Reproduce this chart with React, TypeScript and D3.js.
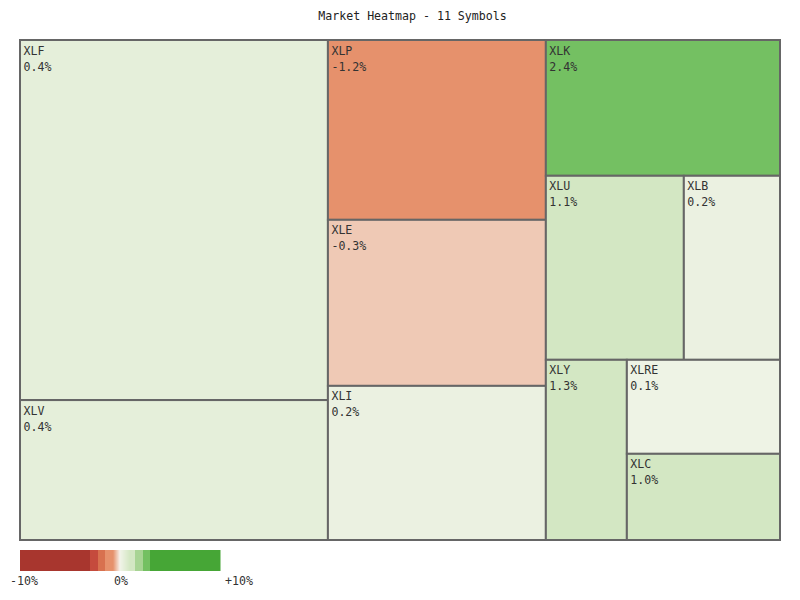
import React from "react";
import * as d3 from "d3";

// ---- data ----
const symbols = ["XLF", "XLV", "XLP", "XLE", "XLI", "XLK", "XLU", "XLB", "XLY", "XLRE", "XLC"];
const changes = [0.4, 0.4, -1.2, -0.3, 0.2, 2.4, 1.1, 0.2, 1.3, 0.1, 1.0];
const weights = [110.9, 43.1, 39.2, 36.2, 33.6, 31.8, 25.4, 17.7, 14.6, 14.4, 13.2];
// nesting of the tiles (columns / rows alternate with depth)
const groups: any[] = [
  ["XLF", "XLV"],
  ["XLP", "XLE", "XLI"],
  ["XLK", ["XLU", "XLB"], ["XLY", ["XLRE", "XLC"]]],
];
const title = "Market Heatmap - 11 Symbols";
const legendTicks = [-10, 0, 10];
const legendTickLabels = ["-10%", "0%", "+10%"];

// colour scale definition
const stepBreaks = [-3, -2.2, -1.5, -0.7, 0, 1, 1.5, 2.3, 3];
const stepColors = ["#a8362e", "#c54b3d", "#d8714f", "#e6916c", "neg", "pos", "#d3e7c3", "#a8d494", "#74c062", "#46a636"];
const negGradient = ["#e6916c", "#f6f3ec"];
const posGradient = ["#f1f4e9", "#d3e7c3"];

const W = 800;
const H = 600;
const FONT = "'DejaVu Sans Mono', monospace";

const stepScale = d3.scaleThreshold<number, string>().domain(stepBreaks).range(stepColors);
const negScale = d3.scaleLinear<string>().domain([-0.7, 0]).range(negGradient).interpolate(d3.interpolateRgb).clamp(true);
const posScale = d3.scaleLinear<string>().domain([0, 1]).range(posGradient).interpolate(d3.interpolateRgb).clamp(true);

function colorFor(v: number): string {
  const c = stepScale(v);
  if (c === "neg") return negScale(v);
  if (c === "pos") return posScale(v);
  return c;
}

function buildNode(item: any): any {
  if (typeof item === "string") {
    const i = symbols.indexOf(item);
    return { name: item, value: weights[i], change: changes[i] };
  }
  return { name: "", children: item.map(buildNode) };
}

export default function App() {
  const rootData = { name: "root", children: groups.map(buildNode) };
  const root = d3
    .hierarchy<any>(rootData)
    .sum((d: any) => (d.children ? 0 : d.value));
  d3.treemap<any>().tile(d3.treemapSliceDice).size([1, 1])(root);

  const x = d3.scaleLinear().domain([0, 1]).range([20, 780]);
  const y = d3.scaleLinear().domain([0, 1]).range([40, 540]);
  const leaves = root.leaves() as any[];

  const lx = d3.scaleLinear().domain([-10, 10]).range([20, 220]);
  const legendPx = d3.range(lx.range()[0], lx.range()[1]);
  const labelOffsets = [4, 1, 19];

  return (
    <svg
      width={W}
      height={H}
      style={{ position: "fixed", left: 0, top: 0, background: "#fff" }}
      fontFamily={FONT}
    >
      <rect x={0} y={0} width={W} height={H} fill="#fff" />
      <text x={412.5} y={20} textAnchor="middle" fontSize={11.6} fill="#222">
        {title}
      </text>
      {leaves.map((d) => {
        const x0 = x(d.x0);
        const y0 = y(d.y0);
        const w = x(d.x1) - x0;
        const h = y(d.y1) - y0;
        const v = d.data.change as number;
        return (
          <g key={d.data.name}>
            <rect x={x0} y={y0} width={w} height={h} fill={colorFor(v)} stroke="#666" strokeWidth={2} />
            <text x={x0 + 3.5} y={y0 + 14.5} fontSize={11.6} fill="#333">
              {d.data.name}
            </text>
            <text x={x0 + 3.5} y={y0 + 30.5} fontSize={11.6} fill="#333">
              {v.toFixed(1) + "%"}
            </text>
          </g>
        );
      })}
      <g>
        {legendPx.map((px) => (
          <rect key={px} x={px} y={550} width={1.5} height={21} fill={colorFor(lx.invert(px + 0.5))} />
        ))}
      </g>
      {legendTicks.map((t, i) => (
        <text key={t} x={lx(t) + labelOffsets[i]} y={585} textAnchor="middle" fontSize={11.6} fill="#333">
          {legendTickLabels[i]}
        </text>
      ))}
    </svg>
  );
}
